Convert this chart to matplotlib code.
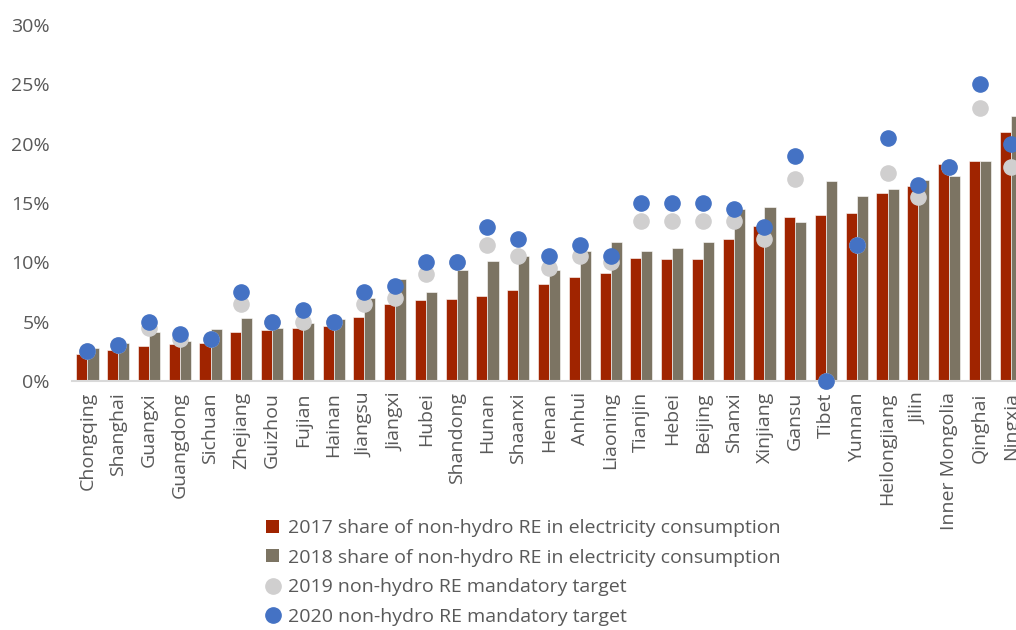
import matplotlib.pyplot as plt
import numpy as np
from matplotlib.lines import Line2D
from matplotlib.patches import Patch
from matplotlib.ticker import FuncFormatter

provinces = ["Chongqing", "Shanghai", "Guangxi", "Guangdong", "Sichuan", "Zhejiang",
             "Guizhou", "Fujian", "Hainan", "Jiangsu", "Jiangxi", "Hubei", "Shandong",
             "Hunan", "Shaanxi", "Henan", "Anhui", "Liaoning", "Tianjin", "Hebei",
             "Beijing", "Shanxi", "Xinjiang", "Gansu", "Tibet", "Yunnan", "Heilongjiang",
             "Jilin", "Inner Mongolia", "Qinghai", "Ningxia"]

share_2017 = [2.3, 2.6, 2.95, 3.15, 3.2, 4.15, 4.3, 4.5, 4.65, 5.4, 6.5, 6.8, 6.9,
              7.2, 7.7, 8.15, 8.8, 9.1, 10.35, 10.3, 10.3, 12.0, 13.1, 13.8, 14.0,
              14.2, 15.85, 16.45, 18.3, 18.5, 21.0]
share_2018 = [2.8, 3.2, 4.15, 3.4, 4.35, 5.3, 4.5, 4.85, 5.2, 7.0, 8.6, 7.5, 9.35,
              10.15, 10.5, 9.35, 10.95, 11.7, 10.95, 11.25, 11.7, 14.5, 14.7, 13.4,
              16.85, 15.6, 16.2, 16.95, 17.3, 18.5, 22.35]
target_2019 = [2.5, 3.0, 4.5, 3.5, 3.5, 6.5, 5.0, 5.0, 5.0, 6.5, 7.0, 9.0, 10.0,
               11.5, 10.5, 9.5, 10.5, 10.0, 13.5, 13.5, 13.5, 13.5, 12.0, 17.0, 0.0,
               11.5, 17.5, 15.5, 18.0, 23.0, 18.0]
target_2020 = [2.5, 3.0, 5.0, 4.0, 3.5, 7.5, 5.0, 6.0, 5.0, 7.5, 8.0, 10.0, 10.0,
               13.0, 12.0, 10.5, 11.5, 10.5, 15.0, 15.0, 15.0, 14.5, 13.0, 19.0, 0.0,
               11.5, 20.5, 16.5, 18.0, 25.0, 20.0]

labels = ["2017 share of non-hydro RE in electricity consumption",
          "2018 share of non-hydro RE in electricity consumption",
          "2019 non-hydro RE mandatory target",
          "2020 non-hydro RE mandatory target"]

red = "#A02400"
taupe = "#7C7463"
light = "#D0CFCF"
blue = "#4472C4"
txt = "#595959"

plt.rcParams["font.family"] = ["Open Sans", "DejaVu Sans"]

fig = plt.figure(figsize=(10.16, 6.30), dpi=100)
ax = fig.add_axes([0.0709, 0.3952, 0.939, 0.5651])

x = np.arange(len(provinces))
w = 0.36
ax.bar(x - w / 2, share_2017, w, color=red, edgecolor="white", linewidth=0.4, zorder=2)
ax.bar(x + w / 2, share_2018, w, color=taupe, edgecolor="white", linewidth=0.4, zorder=2)
ax.scatter(x, target_2019, s=120, color=light, zorder=3, clip_on=False)
ax.scatter(x, target_2020, s=120, color=blue, zorder=4, clip_on=False)

ax.set_xlim(-0.5, len(provinces) - 0.5)
ax.set_ylim(0, 30)
ax.set_yticks(np.arange(0, 31, 5))
ax.yaxis.set_major_formatter(FuncFormatter(lambda v, p: f"{v:.0f}%"))
ax.set_xticks(x)
ax.set_xticklabels(provinces, rotation=90)
ax.tick_params(axis="both", length=0, colors=txt, labelsize=14)
ax.tick_params(axis="y", pad=16)
ax.tick_params(axis="x", pad=8)

for s in ["top", "right", "left"]:
    ax.spines[s].set_visible(False)
ax.spines["bottom"].set_color("#D9D9D9")
ax.spines["bottom"].set_linewidth(1.5)

handles = [Patch(facecolor=red), Patch(facecolor=taupe),
           Line2D([], [], marker="o", linestyle="", color=light, markersize=11),
           Line2D([], [], marker="o", linestyle="", color=blue, markersize=11)]
fig.legend(handles, labels, loc="upper left", bbox_to_anchor=(0.262, 0.176),
           frameon=False, fontsize=14, labelcolor=txt, handlelength=0.65,
           handleheight=0.65, handletextpad=0.45, labelspacing=0.6,
           borderpad=0, borderaxespad=0)

fig.savefig("out.png", dpi=100)
